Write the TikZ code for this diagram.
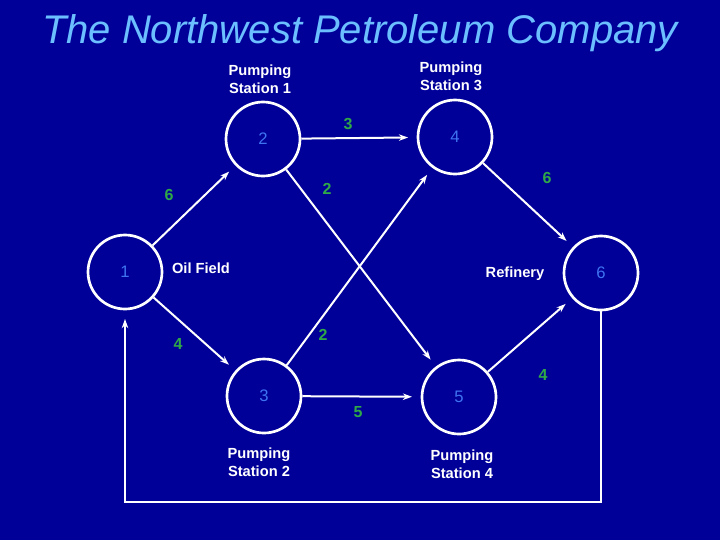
\documentclass[tikz,border=0pt]{standalone}
\usepackage{fontspec}
\setmainfont{Liberation Sans}
\usepackage{tikz}
\usetikzlibrary{arrows.meta,positioning}
\definecolor{Navy}{HTML}{000099}
\definecolor{Sky}{HTML}{6CBFFF}
\definecolor{Num}{HTML}{3F74F0}
\definecolor{Cap}{HTML}{2FA848}
\begin{document}
\begin{tikzpicture}[x=0.75pt,y=-0.75pt,
    st/.style={draw=white,circle,line width=2pt,minimum size=55.5pt,inner sep=0pt,text=Num,font=\fontsize{12.5}{15}\selectfont},
    lb/.style={text=white,align=center,inner sep=0pt,font=\bfseries\fontsize{11}{13.5}\selectfont},
    w/.style={text=Cap,inner sep=0pt,font=\bfseries\fontsize{12}{14}\selectfont},
    a/.style={-{Stealth[length=2.4mm,width=1.7mm]},line width=1.5pt,draw=white,shorten >=6.5pt}]
    \fill[Navy] (0,0) rectangle (720,540);
    \node[text=Sky,font=\itshape\fontsize{30}{36}\selectfont,inner sep=0pt] (t) at (360,33) {The Northwest Petroleum Company};
    \node[st] (s1) at (125,272) {1};
    \node[st] (s2) at (263,139) {2};
    \node[st] (s4) at (455,137) {4};
    \node[st] (s6) at (601,273) {6};
    \node[st] (s3) at (264,396) {3};
    \node[st] (s5) at (459,397) {5};
    \node[lb] (p1) at (260,79) {Pumping\\Station 1};
    \node[lb] (p3) at (451,76) {Pumping\\Station 3};
    \node[lb] (of) at (201,268) {Oil Field};
    \node[lb] (rf) at (515,274) {Refinery};
    \node[lb] (p2) at (259,462) {Pumping\\Station 2};
    \node[lb] (p4) at (462,464) {Pumping\\Station 4};
    \coordinate (bot) at (125,502);
    \draw[a] (s1)--(s2); \draw[a] (s1)--(s3); \draw[a] (s2)--(s4); \draw[a] (s2)--(s5);
    \draw[a] (s3)--(s4); \draw[a] (s3)--(s5); \draw[a] (s4)--(s6); \draw[a] (s5)--(s6);
    \draw[a] (s6) |- (bot) -- (s1);
    \node[w] (w12) at (169,195) {6};
    \node[w] (w24) at (348,124) {3};
    \node[w] (w25) at (327,189) {2};
    \node[w] (w46) at (547,178) {6};
    \node[w] (w13) at (178,344) {4};
    \node[w] (w34) at (323,335) {2};
    \node[w] (w35) at (358,412) {5};
    \node[w] (w56) at (543,375) {4};
  \end{tikzpicture}
\end{document}
